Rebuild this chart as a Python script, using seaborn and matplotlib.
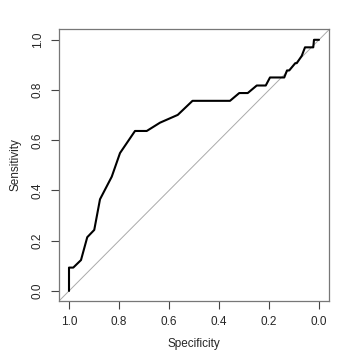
import matplotlib
matplotlib.use("Agg")
import matplotlib.pyplot as plt
import seaborn as sns
import pandas as pd

specificity = [1.0, 1.0, 0.983, 0.952, 0.927, 0.899, 0.876, 0.829, 0.796, 0.736,
               0.689, 0.636, 0.565, 0.506, 0.356, 0.319, 0.285, 0.249, 0.213, 0.196,
               0.139, 0.128, 0.119, 0.095, 0.089, 0.069, 0.056, 0.023, 0.02, 0.0]
sensitivity = [0.0, 0.093, 0.093, 0.123, 0.214, 0.243, 0.365, 0.455, 0.549, 0.637,
               0.637, 0.67, 0.701, 0.757, 0.757, 0.788, 0.788, 0.818, 0.818, 0.85,
               0.85, 0.878, 0.878, 0.907, 0.907, 0.936, 0.970, 0.970, 1.0, 1.0]
tick_values = [1.0, 0.8, 0.6, 0.4, 0.2, 0.0]
tick_labels = ["1.0", "0.8", "0.6", "0.4", "0.2", "0.0"]

sns.set_style("white")
plt.rcParams['font.family'] = ['Liberation Sans', 'DejaVu Sans']

df = pd.DataFrame({"Specificity": specificity, "Sensitivity": sensitivity})

fig = plt.figure(figsize=(3.6, 3.6), dpi=100)
ax = fig.add_axes([59/360, 1-301/360, 270/360, 272/360])

ax.axline((1.0, 0.0), (0.0, 1.0), color="#aaaaaa", lw=0.7, zorder=1)
sns.lineplot(data=df, x="Specificity", y="Sensitivity", sort=False, estimator=None,
             color="black", lw=1.5, ax=ax, zorder=2)

ax.set_xlim(1.04, -0.04)
ax.set_ylim(-0.04, 1.043)
ax.set_xticks(tick_values)
ax.set_xticklabels(tick_labels)
ax.set_yticks(tick_values)
ax.set_yticklabels(tick_labels, rotation=90, va="center")
ax.tick_params(axis="both", which="both", direction="out", length=6, width=0.8,
               color="#444444", labelsize=8.5, pad=5, bottom=True, left=True)
for s in ax.spines.values():
    s.set_visible(True)
    s.set_color("#777777")
    s.set_linewidth(0.9)
ax.set_xlabel("Specificity", fontsize=8.5, labelpad=7)
ax.set_ylabel("Sensitivity", fontsize=8.5, labelpad=7)

fig.savefig("out.png", dpi=100)
